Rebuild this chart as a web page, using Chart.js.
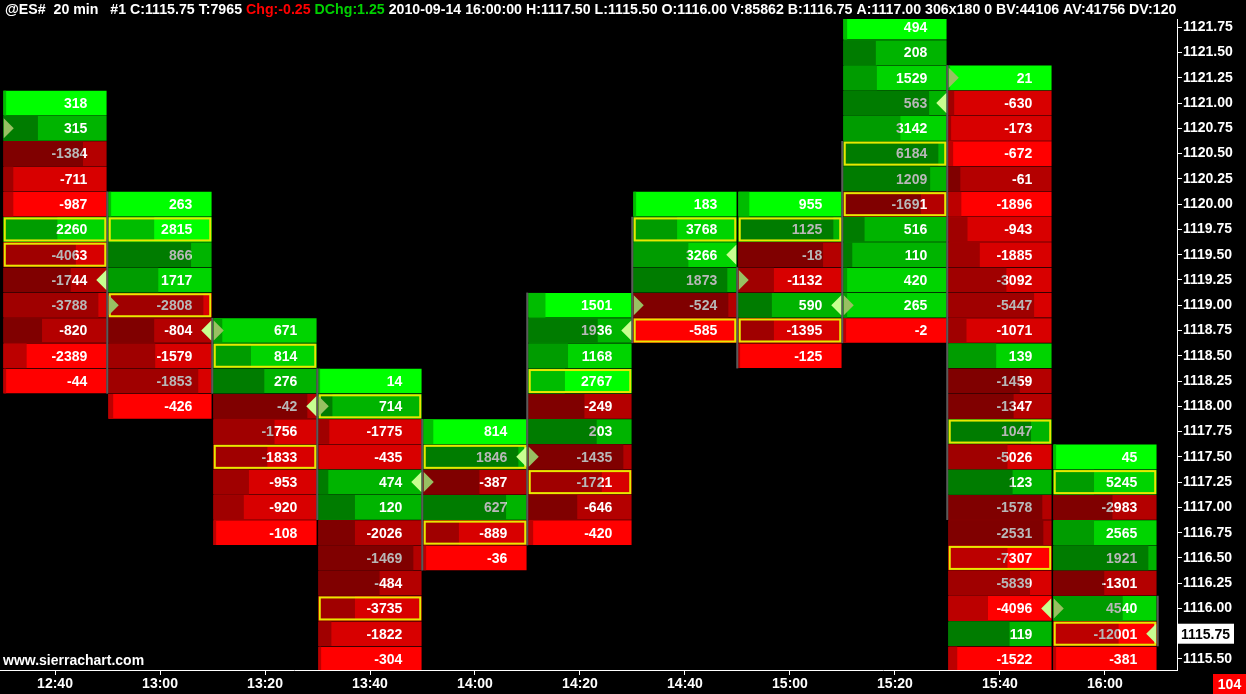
<!DOCTYPE html>
<html>
<head>
<meta charset="utf-8">
<script src="https://cdn.jsdelivr.net/npm/chart.js@4.4.1/dist/chart.umd.min.js"></script>
<style>
html, body { margin: 0; padding: 0; background: #000; overflow: hidden; }
</style>
</head>
<body>
<canvas id="chartFootprint" width="1246" height="694"></canvas>
<script>
// bar times (20 min) and price ladder
var times = ['12:40', '13:00', '13:20', '13:40', '14:00', '14:20', '14:40', '15:00', '15:20', '15:40', '16:00'];
var priceTicks = [1121.75, 1121.50, 1121.25, 1121.00, 1120.75, 1120.50, 1120.25, 1120.00, 1119.75, 1119.50,
	1119.25, 1119.00, 1118.75, 1118.50, 1118.25, 1118.00, 1117.75, 1117.50, 1117.25, 1117.00,
	1116.75, 1116.50, 1116.25, 1116.00, 1115.75, 1115.50];

// top price of each bar, open and close
var highs = [1121.00, 1120.00, 1118.75, 1118.25, 1117.75, 1119.00, 1120.00, 1120.00, 1121.75, 1121.25, 1117.50];
var opens = [1120.75, 1119.00, 1118.75, 1118.00, 1117.25, 1117.50, 1119.00, 1119.25, 1119.00, 1121.25, 1116.00];
var closes = [1119.25, 1118.75, 1118.00, 1117.25, 1117.50, 1118.75, 1119.50, 1119.00, 1121.00, 1116.00, 1115.75];

// thin grey bar lines along the column edge (top / bottom price, 0 = none)
var lineTop = [0, 1120.00, 1118.75, 1118.25, 1117.75, 1119.00, 1119.75, 1119.25, 1120.50, 1121.25, 1116.00];
var lineBottom = [0, 1118.25, 1118.25, 1117.00, 1116.50, 1116.75, 1118.75, 1118.50, 1118.75, 1117.00, 1115.75];
var lineSide = ['left', 'left', 'left', 'left', 'left', 'left', 'left', 'left', 'left', 'left', 'right'];

// highlighted levels (boxed) per bar
var boxUp = [1119.75, 1119.75, 1118.50, 1118.00, 1117.50, 1118.25, 1119.75, 1119.75, 1120.50, 1117.75, 1117.25];
var boxDown = [1119.50, 1119.00, 1117.50, 1116.00, 1116.75, 1117.25, 1118.75, 1118.75, 1120.00, 1116.50, 1115.75];

// delta per price, from high down
var deltas = [
	[318, 315, -1384, -711, -987, 2260, -4063, -1744, -3788, -820, -2389, -44],
	[263, 2815, 866, 1717, -2808, -804, -1579, -1853, -426],
	[671, 814, 276, -42, -1756, -1833, -953, -920, -108],
	[14, 714, -1775, -435, 474, 120, -2026, -1469, -484, -3735, -1822, -304],
	[814, 1846, -387, 627, -889, -36],
	[1501, 1936, 1168, 2767, -249, 203, -1435, -1721, -646, -420],
	[183, 3768, 3266, 1873, -524, -585],
	[955, 1125, -18, -1132, 590, -1395, -125],
	[494, 208, 1529, 563, 3142, 6184, 1209, -1691, 516, 110, 420, 265, -2],
	[21, -630, -173, -672, -61, -1896, -943, -1885, -3092, -5447, -1071, 139, -1459, -1347, 1047, -5026, 123, -1578, -2531, -7307, -5839, -4096, 119, -1522],
	[45, 5245, -2983, 2565, 1921, -1301, 4540, -12001, -381]
];

// colour intensity of each cell (0 bright .. 2 deep)
var shades = [
	[0, 2, 2, 1, 0, 1, 1, 2, 1, 2, 0, 0],
	[0, 0, 2, 1, 1, 2, 1, 1, 0],
	[1, 1, 2, 2, 1, 1, 1, 1, 0],
	[0, 2, 1, 1, 2, 2, 2, 2, 2, 1, 1, 0],
	[0, 2, 2, 2, 1, 0],
	[0, 2, 1, 0, 2, 2, 2, 1, 2, 0],
	[0, 1, 1, 2, 2, 0],
	[0, 2, 2, 1, 2, 1, 0],
	[0, 2, 1, 2, 1, 2, 2, 2, 2, 2, 1, 1, 0],
	[0, 1, 1, 0, 2, 0, 1, 1, 1, 1, 1, 1, 2, 2, 2, 1, 2, 2, 2, 0, 1, 0, 2, 0],
	[0, 1, 2, 1, 2, 2, 1, 0, 0]
];

// volume share shown as the dark part of each cell
var volShare = [
	[0.02, 0.33, 0.77, 0.09, 0.09, 0.52, 0.70, 0.65, 0.92, 0.37, 0.22, 0.02],
	[0.02, 0.44, 0.80, 0.48, 0.92, 0.44, 0.45, 0.87, 0.04],
	[0.08, 0.36, 0.49, 0.91, 0.59, 0.52, 0.34, 0.29, 0.02],
	[0.01, 0.13, 0.10, 0.00, 0.09, 0.35, 0.35, 0.92, 0.59, 0.35, 0.12, 0.02],
	[0.09, 0.92, 0.54, 0.80, 0.34, 0.02],
	[0.16, 0.67, 0.38, 0.35, 0.54, 0.66, 0.92, 0.71, 0.47, 0.04],
	[0.02, 0.42, 0.53, 0.91, 0.92, 0.02],
	[0.10, 0.92, 0.82, 0.34, 0.32, 0.34, 0.01],
	[0.03, 0.31, 0.32, 0.83, 0.55, 0.92, 0.84, 0.75, 0.20, 0.08, 0.03, 0.03, 0.02],
	[0.01, 0.05, 0.02, 0.04, 0.11, 0.12, 0.18, 0.30, 0.56, 0.83, 0.17, 0.46, 0.69, 0.63, 0.80, 0.57, 0.62, 0.91, 0.92, 0.57, 0.79, 0.38, 0.59, 0.08],
	[0.02, 0.39, 0.57, 0.39, 0.92, 0.49, 0.67, 0.63, 0.02]
];

var lastPrice = 1115.75;
var barCounter = '104';

var greenLight = ['#00ff00', '#00d400', '#00b400'];
var greenDark = ['#00bc00', '#009c00', '#007c00'];
var redLight = ['#ff0000', '#d80000', '#b40000'];
var redDark = ['#bc0000', '#a00000', '#800000'];

var half = 0.488;
var cells = [];
deltas.forEach(function (col, i) {
	col.forEach(function (d, k) {
		cells.push({ col: i, price: highs[i] - k * 0.25, delta: d, shade: shades[i][k], frac: volShare[i][k] });
	});
});

var boldFont = 'bold 14px "Liberation Sans", Arial, sans-serif';

var footprintPlugin = {
	id: 'footprint',
	beforeDraw: function (chart) {
		var c = chart.ctx;
		c.save();
		c.fillStyle = '#000';
		c.fillRect(0, 0, chart.width, chart.height);
		c.restore();
	},
	afterDatasetsDraw: function (chart) {
		var c = chart.ctx;
		var area = chart.chartArea;
		var xs = chart.scales.x, ys = chart.scales.y;
		var lightEls = chart.getDatasetMeta(1).data;
		var darkEls = chart.getDatasetMeta(0).data;
		c.save();
		c.beginPath();
		c.rect(area.left, area.top, area.right - area.left, area.bottom - area.top);
		c.clip();

		// grey edge lines
		c.fillStyle = '#5a5a5a';
		times.forEach(function (t, i) {
			if (!lineTop[i]) return;
			var lx = lineSide[i] === 'left' ? xs.getPixelForValue(i - half) - 2.5 : xs.getPixelForValue(i + half) + 0.5;
			var y1 = ys.getPixelForValue(lineTop[i] + 0.125);
			var y2 = ys.getPixelForValue(lineBottom[i] - 0.125);
			c.fillRect(lx, y1, 2, y2 - y1);
		});

		cells.forEach(function (cell, n) {
			var el = lightEls[n];
			var dk = darkEls[n];
			var left = Math.min(el.base, el.x), right = Math.max(el.base, el.x);
			var top = el.y - el.height / 2, bottom = el.y + el.height / 2;
			var darkEnd = Math.max(dk.base, dk.x);
			if (cell.frac <= 0) darkEnd = left;

			// boxed levels
			if (cell.price === boxUp[cell.col] || cell.price === boxDown[cell.col]) {
				c.strokeStyle = '#e8e800';
				c.lineWidth = 2;
				c.strokeRect(left + 1, top + 1, right - left - 2, bottom - top - 2);
			}
			// open / close markers
			if (cell.price === opens[cell.col]) {
				c.fillStyle = '#98c062';
				c.beginPath();
				c.moveTo(left, top + 2);
				c.lineTo(left + 10, el.y);
				c.lineTo(left, bottom - 2);
				c.closePath();
				c.fill();
			}
			if (cell.price === closes[cell.col]) {
				c.fillStyle = '#c8ff90';
				c.beginPath();
				c.moveTo(right, top + 2);
				c.lineTo(right - 10, el.y);
				c.lineTo(right, bottom - 2);
				c.closePath();
				c.fill();
			}
			// delta text: grey over the volume part, white elsewhere
			c.font = boldFont;
			c.textAlign = 'right';
			c.textBaseline = 'middle';
			var tx = right - 19, ty = el.y + 1;
			c.save();
			c.beginPath();
			c.rect(left, top, darkEnd - left, bottom - top);
			c.clip();
			c.fillStyle = '#b8b8b8';
			c.fillText(String(cell.delta), tx, ty);
			c.restore();
			c.save();
			c.beginPath();
			c.rect(darkEnd, top, right - darkEnd, bottom - top);
			c.clip();
			c.fillStyle = '#ffffff';
			c.fillText(String(cell.delta), tx, ty);
			c.restore();
		});
		c.restore();
	},
	afterDraw: function (chart) {
		var c = chart.ctx;
		var area = chart.chartArea;
		c.save();
		// header line
		c.beginPath();
		c.rect(0, 0, area.right, area.top);
		c.clip();
		c.font = 'bold 14.2px "Liberation Sans", Arial, sans-serif';
		c.textAlign = 'left';
		c.textBaseline = 'middle';
		var parts = [
			['@ES#  20 min   #1 C:1115.75 T:7965 ', '#ffffff'],
			['Chg:-0.25', '#ff0000'],
			[' ', '#ffffff'],
			['DChg:1.25', '#00d000'],
			[' 2010-09-14 16:00:00 H:1117.50 L:1115.50 O:1116.00 V:85862 B:1116.75 A:1117.00 306x180 0 BV:44106 AV:41756 DV:120', '#ffffff']
		];
		var x = 5;
		parts.forEach(function (p) {
			c.fillStyle = p[1];
			c.fillText(p[0], x, 10);
			x += c.measureText(p[0]).width;
		});
		c.restore();

		c.save();
		c.font = boldFont;
		c.textBaseline = 'middle';
		// watermark
		c.textAlign = 'left';
		c.fillStyle = '#ffffff';
		c.fillText('www.sierrachart.com', 3, 661);
		// last price box
		var py = chart.scales.y.getPixelForValue(lastPrice);
		c.fillStyle = '#ffffff';
		c.fillRect(area.right + 1, py - 10, 56, 20);
		c.fillStyle = '#000000';
		c.fillText(lastPrice.toFixed(2), area.right + 4, py + 1);
		// bar counter box
		c.fillStyle = '#ff0000';
		c.fillRect(chart.width - 33, chart.height - 20, 33, 20);
		c.fillStyle = '#ffffff';
		c.textAlign = 'center';
		c.fillText(barCounter, chart.width - 16.5, chart.height - 9);
		c.restore();
	}
};

var ctx = document.getElementById('chartFootprint').getContext('2d');
var chart = new Chart(ctx, {
	type: 'bar',
	data: {
		datasets: [{
			label: 'Volume',
			order: 1,
			data: cells.map(function (cell) {
				return { y: cell.price, x: [cell.col - half, cell.col - half + 2 * half * cell.frac] };
			}),
			backgroundColor: cells.map(function (cell) {
				return cell.delta >= 0 ? greenDark[cell.shade] : redDark[cell.shade];
			})
		}, {
			label: 'Delta',
			order: 2,
			data: cells.map(function (cell) {
				return { y: cell.price, x: [cell.col - half, cell.col + half] };
			}),
			backgroundColor: cells.map(function (cell) {
				return cell.delta >= 0 ? greenLight[cell.shade] : redLight[cell.shade];
			})
		}]
	},
	options: {
		responsive: false,
		animation: false,
		indexAxis: 'y',
		layout: { padding: { top: 19, left: 0, right: 0, bottom: 0 } },
		datasets: {
			bar: { grouped: false, barThickness: 24, borderWidth: 0 }
		},
		plugins: {
			legend: { display: false },
			tooltip: { enabled: false }
		},
		scales: {
			x: {
				type: 'linear',
				position: 'bottom',
				offset: false,
				min: -0.524,
				max: 10.686,
				afterBuildTicks: function (scale) {
					scale.ticks = times.map(function (t, i) { return { value: i }; });
				},
				afterFit: function (scale) { scale.height = 24; },
				grid: { drawOnChartArea: false, drawTicks: true, tickLength: 5, color: '#ffffff', offset: false },
				border: { color: '#ffffff', width: 1 },
				ticks: {
					color: '#ffffff',
					font: { family: '"Liberation Sans", Arial, sans-serif', size: 14, weight: 'bold' },
					padding: 1,
					autoSkip: false,
					maxRotation: 0,
					callback: function (v) { return times[v]; }
				}
			},
			y: {
				type: 'linear',
				position: 'right',
				offset: false,
				min: 1115.391,
				max: 1121.832,
				afterBuildTicks: function (scale) {
					scale.ticks = priceTicks.map(function (p) { return { value: p }; });
				},
				afterFit: function (scale) { scale.width = 69; },
				grid: { drawOnChartArea: false, drawTicks: true, tickLength: 5, color: '#ffffff', offset: false },
				border: { color: '#ffffff', width: 1 },
				ticks: {
					color: '#ffffff',
					font: { family: '"Liberation Sans", Arial, sans-serif', size: 14, weight: 'bold' },
					padding: 1,
					autoSkip: false,
					callback: function (v) { return Number(v).toFixed(2); }
				}
			}
		}
	},
	plugins: [footprintPlugin]
});
</script>
</body>
</html>
